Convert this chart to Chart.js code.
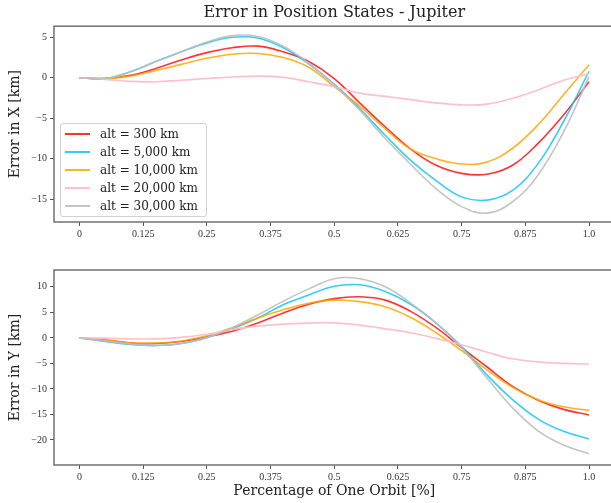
<!DOCTYPE html>
<html>
<head>
<meta charset="utf-8">
<script src="https://cdn.jsdelivr.net/npm/chart.js@4.4.1/dist/chart.umd.min.js"></script>
<style>
  html, body { margin: 0; padding: 0; background: #fff; overflow: hidden; }
  body { width: 611px; height: 503px; position: relative; }
  canvas { position: absolute; left: 0; }
  #topChart { top: 0; }
  #bottomChart { top: 250px; }
  #legend {
    position: absolute; left: 60px; top: 123px; width: 145px; height: 92px;
    border: 1px solid #d0d0d0; border-radius: 3px; background: rgba(255,255,255,0.85);
    font-family: 'DejaVu Serif', serif; font-size: 12px; color: #222;
  }
  #legend .row { position: absolute; left: 4px; height: 18px; line-height: 18px; white-space: nowrap; }
  #legend .swatch { position: absolute; left: 0; top: 8px; width: 25px; height: 2px; }
  #legend .label { position: absolute; left: 35px; top: 0; }
</style>
</head>
<body>
<canvas id="topChart" width="660" height="250"></canvas>
<canvas id="bottomChart" width="660" height="253"></canvas>
<div id="legend"></div>
<script>
// fraction of one orbit
const orbitFrac = [0, 0.05, 0.1, 0.15, 0.2, 0.25, 0.3, 0.35, 0.4, 0.45, 0.5,
                   0.55, 0.6, 0.65, 0.7, 0.75, 0.8, 0.85, 0.9, 0.95, 1.0];

const seriesNames = ['alt = 300 km', 'alt = 5,000 km', 'alt = 10,000 km', 'alt = 20,000 km', 'alt = 30,000 km'];
const seriesColors = ['rgba(255,0,0,0.8)', 'rgba(0,191,255,0.8)', 'rgba(255,165,0,0.85)', 'rgba(255,192,203,1)', 'rgba(190,190,190,0.9)'];

// Error in X [km]
const errX300 = [0, -0.1, 0.3, 1.15, 2.2, 3.1, 3.7, 3.9, 3.2, 2.0, -0.1, -3.1, -6.05, -8.8, -10.8, -11.8, -11.9, -10.8, -8.1, -4.6, -0.5];
const errX5000 = [0, -0.1, 0.75, 2.0, 3.2, 4.3, 5.0, 4.9, 3.7, 1.7, -0.8, -3.8, -7.1, -10.2, -12.7, -14.7, -15.1, -13.9, -10.6, -5.4, 0.8];
const errX10000 = [0, -0.1, 0.2, 0.9, 1.65, 2.4, 2.9, 3.0, 2.5, 1.3, -1.1, -3.5, -6.3, -8.8, -10.0, -10.65, -10.4, -8.7, -5.8, -2.1, 1.6];
const errX20000 = [0, -0.2, -0.45, -0.5, -0.3, -0.1, 0.1, 0.2, 0.05, -0.5, -1.1, -1.9, -2.3, -2.7, -3.1, -3.35, -3.25, -2.55, -1.5, -0.3, 0.5];
const errX30000 = [0, -0.1, 0.75, 2.0, 3.2, 4.4, 5.2, 5.1, 3.9, 1.8, -0.9, -4.0, -7.5, -10.7, -13.7, -15.9, -16.7, -15.3, -12.0, -6.7, 0.1];

// Error in Y [km]
const errY300 = [0, -0.4, -1.0, -1.1, -0.7, 0.2, 1.3, 2.9, 4.9, 6.6, 7.7, 8.05, 7.4, 5.2, 2.0, -1.9, -5.7, -9.5, -12.2, -14.0, -15.1];
const errY5000 = [0, -0.7, -1.3, -1.5, -1.1, 0.05, 1.8, 3.9, 6.5, 8.4, 10.1, 10.4, 9.1, 6.6, 2.9, -1.7, -7.3, -12.1, -15.9, -18.3, -19.8];
const errY10000 = [0, -0.4, -1.0, -1.0, -0.6, 0.4, 2.0, 3.9, 5.5, 6.8, 7.4, 7.1, 6.1, 4.0, 1.0, -2.5, -6.3, -9.7, -12.1, -13.5, -14.2];
const errY20000 = [0, -0.05, -0.2, -0.2, 0.1, 0.7, 1.65, 2.3, 2.7, 2.9, 2.94, 2.5, 1.8, 1.0, -0.1, -1.35, -2.8, -4.1, -4.7, -5.0, -5.1];
const errY30000 = [0, -0.6, -1.2, -1.5, -1.1, 0.05, 2.0, 4.5, 7.2, 9.6, 11.6, 11.6, 10.0, 6.8, 2.9, -1.9, -7.9, -13.7, -18.2, -21.0, -22.7];

// tick labels
const xTicks = [0, 0.125, 0.25, 0.375, 0.5, 0.625, 0.75, 0.875, 1.0];
const xTickLabels = ['0', '0.125', '0.25', '0.375', '0.5', '0.625', '0.75', '0.875', '1.0'];
const yTicksTop = [-15, -10, -5, 0, 5];
const yTicksBottom = [-20, -15, -10, -5, 0, 5, 10];

const serif = 'DejaVu Serif';
const tickFont = { family: 'Liberation Serif', size: 10 };

// draws the full box around the axes like matplotlib spines
const framePlugin = {
    id: 'frame',
    afterDraw(chart) {
        const { ctx, chartArea: a } = chart;
        ctx.save();
        ctx.strokeStyle = '#707070';
        ctx.lineWidth = 1.5;
        ctx.strokeRect(a.left, a.top, a.right - a.left, a.bottom - a.top);
        ctx.restore();
    }
};

function makeDatasets(seriesList) {
    return seriesList.map((vals, i) => ({
        label: seriesNames[i],
        data: orbitFrac.map((x, j) => ({ x: x, y: vals[j] })),
        borderColor: seriesColors[i],
        borderWidth: 1.6,
        pointRadius: 0,
        fill: false,
        tension: 0.4,
        order: seriesList.length - i
    }));
}

function minusSign(v) {
    return String(v).replace('-', '\u2212');
}

function makeChart(canvasId, seriesList, yMin, yMax, yTicks, yTitle, opts) {
    return new Chart(document.getElementById(canvasId), {
        type: 'line',
        data: { datasets: makeDatasets(seriesList) },
        plugins: [framePlugin],
        options: {
            responsive: false,
            animation: false,
            layout: { padding: { left: 0, right: 45.5, top: opts.padTop, bottom: 0 } },
            plugins: {
                legend: { display: false },
                tooltip: { enabled: false },
                title: opts.title ? {
                    display: true,
                    fullSize: false,
                    text: opts.title,
                    color: '#222',
                    font: { family: serif, size: 16, weight: 'normal' },
                    padding: { top: 3, bottom: 4 }
                } : { display: false }
            },
            scales: {
                x: {
                    type: 'linear',
                    min: -0.05,
                    max: 1.05,
                    afterBuildTicks: s => { s.ticks = xTicks.map(v => ({ value: v })); },
                    afterFit: s => { s.height = opts.xHeight; },
                    ticks: {
                        font: tickFont, color: '#333', padding: 2, maxRotation: 0,
                        callback: (v) => xTickLabels[xTicks.indexOf(v)]
                    },
                    grid: { drawOnChartArea: false, drawTicks: true, tickLength: 4, tickColor: '#555' },
                    border: { display: false },
                    title: opts.xTitle ? {
                        display: true, text: opts.xTitle, color: '#222',
                        font: { family: serif, size: 14 }, padding: { top: 0, bottom: 3 }
                    } : { display: false }
                },
                y: {
                    min: yMin,
                    max: yMax,
                    afterBuildTicks: s => { s.ticks = yTicks.map(v => ({ value: v })); },
                    afterFit: s => { s.width = 54; },
                    ticks: { font: tickFont, color: '#333', padding: 3, callback: v => minusSign(v) },
                    grid: { drawOnChartArea: false, drawTicks: true, tickLength: 4, tickColor: '#555' },
                    border: { display: false },
                    title: {
                        display: true, text: yTitle, color: '#222',
                        font: { family: serif, size: 14 }, padding: { top: 7, bottom: 0 }
                    }
                }
            }
        }
    });
}

makeChart('topChart', [errX300, errX5000, errX10000, errX20000, errX30000],
    -17.8, 6.36, yTicksTop, 'Error in X [km]',
    { title: 'Error in Position States - Jupiter', padTop: 0, xHeight: 28 });

makeChart('bottomChart', [errY300, errY5000, errY10000, errY20000, errY30000],
    -24.9, 13.3, yTicksBottom, 'Error in Y [km]',
    { xTitle: 'Percentage of One Orbit [%]', padTop: 20, xHeight: 38 });

// legend inside the top axes
const legendBox = document.getElementById('legend');
seriesNames.forEach((name, i) => {
    const row = document.createElement('div');
    row.className = 'row';
    row.style.top = (1 + i * 18) + 'px';
    row.innerHTML = '<span class="swatch" style="background:' + seriesColors[i] + '"></span><span class="label">' + name + '</span>';
    legendBox.appendChild(row);
});
</script>
</body>
</html>
